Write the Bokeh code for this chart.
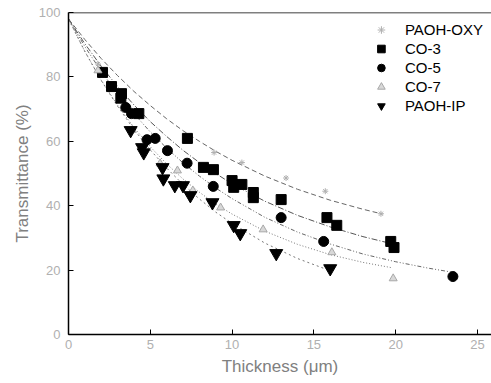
from bokeh.plotting import figure
from bokeh.models import Range1d, Span, Legend, LegendItem
from bokeh.embed import file_html
from bokeh.resources import INLINE

# ---------------- data ----------------
oxy_x = [1.8, 8.9, 10.6, 13.3, 15.7, 19.1]
oxy_y = [84.0, 56.5, 53.4, 48.6, 44.5, 37.5]

co3_x = [2.08, 2.63, 3.24, 3.2, 4.3, 7.27, 8.25, 8.86, 10.0, 10.1, 10.6, 11.3, 11.3, 13.0, 15.8, 16.4, 19.7, 19.9]
co3_y = [81.4, 77.0, 74.8, 73.4, 68.6, 60.9, 51.9, 51.2, 47.8, 45.7, 46.6, 44.1, 42.5, 41.9, 36.3, 33.9, 28.9, 27.0]

co5_x = [3.5, 3.85, 4.8, 5.3, 6.05, 7.25, 8.85, 13.0, 15.6, 23.5]
co5_y = [70.5, 68.6, 60.5, 60.9, 57.1, 53.2, 46.0, 36.3, 28.9, 18.0]

co7_x = [1.8, 3.9, 5.6, 6.66, 7.6, 9.3, 11.9, 16.1, 19.85]
co7_y = [82.0, 63.5, 53.1, 50.9, 44.7, 39.4, 32.6, 25.5, 17.4]

ip_x = [3.8, 4.5, 4.6, 5.75, 5.8, 6.5, 7.0, 7.45, 8.8, 10.1, 10.5, 12.7, 16.0]
ip_y = [63.4, 58.1, 56.5, 51.9, 48.4, 46.3, 46.3, 43.2, 41.0, 33.9, 31.4, 25.2, 20.5]

# fitted curves
oxy_fit_x = [0, 1, 2, 3, 4, 5, 6, 7, 8, 9, 10, 12, 14, 16, 18, 19.2]
oxy_fit_y = [98, 91.6, 85.7, 80.4, 75.5, 71.1, 67.0, 63.3, 60.0, 56.9, 54.1, 49.2, 45.1, 41.7, 38.9, 37.4]

co3_fit_x = [0, 1, 2, 3, 4, 5, 6, 7, 8, 9, 10, 12, 14, 16, 18, 20]
co3_fit_y = [98, 90.3, 83.3, 77.0, 71.3, 66.1, 61.5, 57.2, 53.4, 50.0, 46.8, 41.4, 37.0, 33.4, 30.4, 27.9]

co5_fit_x = [0, 1, 2, 3, 4, 5, 6, 7, 8, 9, 10, 12, 14, 16, 18, 20, 22, 23.4]
co5_fit_y = [98, 89.4, 81.7, 74.8, 68.6, 62.9, 57.9, 53.3, 49.2, 45.5, 42.2, 36.4, 31.8, 28.1, 25.0, 22.6, 20.6, 19.4]

co7_fit_x = [0, 1, 2, 3, 4, 5, 6, 7, 8, 9, 10, 12, 14, 16, 18, 19.7]
co7_fit_y = [98, 87.9, 79.0, 71.2, 64.3, 58.3, 53.0, 48.3, 44.2, 40.5, 37.4, 32.1, 28.0, 24.8, 22.4, 20.8]

ip_fit_x = [0, 1, 2, 3, 4, 5, 6, 7, 8, 9, 10, 12, 14, 16]
ip_fit_y = [98, 87.9, 78.9, 70.9, 63.7, 57.3, 51.7, 46.6, 42.1, 38.0, 34.5, 28.4, 23.6, 19.8]

x_ticks = [0, 5, 10, 15, 20, 25]
y_ticks = [0, 20, 40, 60, 80, 100]
labels = ["PAOH-OXY", "CO-3", "CO-5", "CO-7", "PAOH-IP"]

# ---------------- figure ----------------
p = figure(width=491, height=383, output_backend="svg", toolbar_location=None,
           x_range=Range1d(0, 25.86), y_range=Range1d(0, 100),
           min_border_left=68, min_border_right=0, min_border_top=12, min_border_bottom=49)
p.background_fill_color = "white"
p.border_fill_color = "white"
p.outline_line_color = None
p.grid.visible = False

FONT = "Liberation Sans"
for ax in (p.xaxis[0], p.yaxis[0]):
    ax.axis_line_color = "black"
    ax.axis_line_width = 1.5
    ax.major_tick_in = 5
    ax.major_tick_out = 0
    ax.minor_tick_in = 3
    ax.minor_tick_out = 0
    ax.major_tick_line_color = "black"
    ax.minor_tick_line_color = "black"
    ax.major_label_text_color = "#b0b0b0"
    ax.major_label_text_font = FONT
    ax.major_label_text_font_size = "13px"
    ax.axis_label_text_color = "#808080"
    ax.axis_label_text_font = FONT
    ax.axis_label_text_font_style = "normal"
    ax.axis_label_text_font_size = "17px"

p.xaxis.ticker = x_ticks
p.yaxis.ticker = y_ticks
p.xaxis[0].ticker.num_minor_ticks = 2
p.yaxis[0].ticker.num_minor_ticks = 2
p.xaxis.axis_label = "Thickness (\u03bcm)"
p.yaxis.axis_label = "Transmittance (%)"
p.xaxis.major_label_standoff = 5
p.yaxis.major_label_standoff = 8
p.xaxis.axis_label_standoff = 5
p.yaxis.axis_label_standoff = 4

p.add_layout(Span(location=100, dimension="width", line_color="black", line_width=1.5))

# fit curves
p.line(oxy_fit_x, oxy_fit_y, line_color="#666666", line_width=1, line_dash="5 3")
p.line(co3_fit_x, co3_fit_y, line_color="#555555", line_width=1, line_dash="6 2 1 2")
p.line(co5_fit_x, co5_fit_y, line_color="#666666", line_width=1, line_dash="4 2 1 2 1 2")
p.line(co7_fit_x, co7_fit_y, line_color="#777777", line_width=1, line_dash="1 2")
p.line(ip_fit_x, ip_fit_y, line_color="#777777", line_width=1, line_dash="2 3")

# markers
r_oxy = p.scatter(oxy_x, oxy_y, marker="asterisk", size=6, line_color="#b0b0b0", line_width=1)
r_co3 = p.scatter(co3_x, co3_y, marker="square", size=10, color="black")
r_co5 = p.scatter(co5_x, co5_y, marker="circle", size=10, color="black")
r_co7 = p.scatter(co7_x, co7_y, marker="triangle", size=8, fill_color="#d8d8d8",
                  line_color="#a8a8a8", line_width=1)
r_ip = p.scatter(ip_x, ip_y, marker="inverted_triangle", size=13, color="black")

legend = Legend(items=[LegendItem(label=l, renderers=[r]) for l, r in
                       zip(labels, [r_oxy, r_co3, r_co5, r_co7, r_ip])],
                location="top_right", margin=8, padding=3, spacing=0,
                label_height=19, glyph_height=19, glyph_width=20, label_standoff=14,
                label_text_font=FONT, label_text_font_size="15px", label_text_color="black",
                border_line_color=None, background_fill_alpha=0)
p.add_layout(legend)

open("out.html", "w").write(file_html(p, INLINE))
